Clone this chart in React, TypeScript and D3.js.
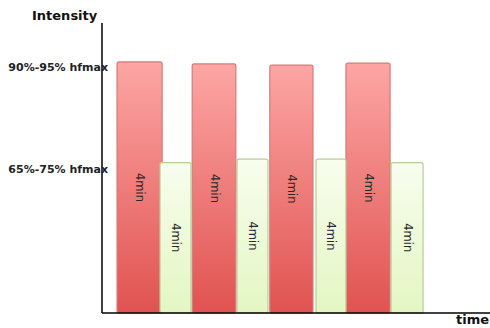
import React from "react";
import * as d3 from "d3";

const W = 490;
const H = 328;

// time intervals (arbitrary time units) and intensity (% of axis height)
const workStart = [1.55, 9.3, 17.3, 25.15];
const workEnd = [6.2, 13.8, 21.75, 29.7];
const workLevel = [86.3, 85.6, 85.2, 85.9];

const restStart = [5.98, 13.92, 22.06, 29.8];
const restEnd = [9.18, 17.11, 25.15, 33.1];
const restLevel = [51.7, 52.9, 52.9, 51.7];

const segmentLabel = "4min";

const yTickValues = [84.2, 49.1];
const yTickLabels = ["90%-95% hfmax", "65%-75% hfmax"];

const yTitle = "Intensity";
const xTitle = "time";

export default function App() {
  const axisX = 102;
  const axisY = 313;
  const x = d3.scaleLinear().domain([0, 40]).range([axisX, W]);
  const y = d3.scaleLinear().domain([0, 100]).range([axisY, 22]);

  const work = workStart.map((s, i) => ({ s, e: workEnd[i], v: workLevel[i] }));
  const rest = restStart.map((s, i) => ({ s, e: restEnd[i], v: restLevel[i] }));

  const font = "'DejaVu Sans', Verdana, sans-serif";

  const bar = (d: { s: number; e: number; v: number }, i: number, kind: string) => {
    const x0 = x(d.s);
    const x1 = x(d.e);
    const y0 = y(d.v);
    const cx = (x0 + x1) / 2;
    const cy = (y0 + axisY) / 2;
    return (
      <g key={kind + i}>
        <rect
          x={x0}
          y={y0}
          width={x1 - x0}
          height={axisY - y0}
          rx={2}
          fill={`url(#${kind}Grad)`}
          stroke={kind === "work" ? "#d47c7a" : "#b8cc98"}
          strokeWidth={1.2}
        />
        <text
          transform={`translate(${cx},${cy}) rotate(90)`}
          textAnchor="middle"
          dominantBaseline="middle"
          fontFamily={font}
          fontSize={11.5}
          fill="#2a2a2a"
        >
          {segmentLabel}
        </text>
      </g>
    );
  };

  return (
    <svg
      width={W}
      height={H}
      style={{ position: "absolute", left: 0, top: 0, background: "#fff" }}
    >
      <defs>
        <linearGradient id="workGrad" x1="0" y1="0" x2="0" y2="1">
          <stop offset="0%" stopColor="#fca6a4" />
          <stop offset="100%" stopColor="#e05351" />
        </linearGradient>
        <linearGradient id="restGrad" x1="0" y1="0" x2="0" y2="1">
          <stop offset="0%" stopColor="#f8fdee" />
          <stop offset="100%" stopColor="#e3f6c2" />
        </linearGradient>
      </defs>
      <rect width={W} height={H} fill="#fff" />
      {work.map((d, i) => bar(d, i, "work"))}
      {rest.map((d, i) => bar(d, i, "rest"))}
      <line x1={axisX} x2={axisX} y1={23} y2={axisY} stroke="#000" strokeWidth={1.5} />
      <line x1={axisX} x2={W} y1={axisY} y2={axisY} stroke="#000" strokeWidth={1.5} />
      {yTickValues.map((v, i) => (
        <text
          key={i}
          x={108}
          y={y(v)}
          textAnchor="end"
          dominantBaseline="middle"
          fontFamily={font}
          fontWeight="bold"
          fontSize={11}
          fill="#222"
        >
          {yTickLabels[i]}
        </text>
      ))}
      <text x={32} y={20} fontFamily={font} fontWeight="bold" fontSize={13} fill="#111">
        {yTitle}
      </text>
      <text x={456} y={324} fontFamily={font} fontWeight="bold" fontSize={13} fill="#111">
        {xTitle}
      </text>
    </svg>
  );
}
